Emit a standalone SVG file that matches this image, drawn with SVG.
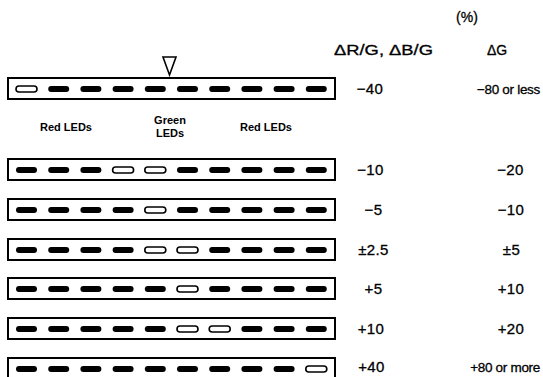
<svg xmlns="http://www.w3.org/2000/svg" width="543" height="377" viewBox="0 0 543 377">
<defs>
<style>
.box{fill:#fff;stroke:#000;stroke-width:2}
.on{fill:#000}
.off{fill:#fff;stroke:#000;stroke-width:1.6}
.t{font-family:"Liberation Sans",Arial,sans-serif;font-size:15px;fill:#000;stroke:#000;stroke-width:0.3;letter-spacing:0.4px}
.w{font-family:"Liberation Sans",Arial,sans-serif;font-size:13.5px;fill:#000;stroke:#000;stroke-width:0.3;letter-spacing:-0.3px;text-anchor:end}
.h{font-family:"Liberation Sans",Arial,sans-serif;font-size:14px;fill:#000;stroke:#000;stroke-width:0.3}
.l{font-family:"Liberation Sans",Arial,sans-serif;font-size:11px;font-weight:bold;fill:#000}
.c{text-anchor:middle}
</style>
<rect id="led" x="0" y="-3" width="21" height="6" rx="3"/>
</defs>
<rect width="543" height="377" fill="#fff"/>
<g id="header">
<text class="h c" x="467" y="22">(%)</text>
<text class="h c" x="383.5" y="55" textLength="99" lengthAdjust="spacingAndGlyphs">ΔR/G, ΔB/G</text>
<text class="h c" x="497" y="55">ΔG</text>
</g>
<g id="marker">
<polygon points="163,57 176,57 169.5,75" fill="#fff" stroke="#000" stroke-width="1.6"/>
</g>
<g id="labels">
<text class="l c" x="66" y="131">Red LEDs</text>
<text class="l c" x="170" y="124">Green</text>
<text class="l c" x="170" y="137">LEDs</text>
<text class="l c" x="266" y="131">Red LEDs</text>
</g>
<g id="row1" transform="translate(0,78)">
<rect class="box" x="8" y="0" width="327" height="21"/>
<g transform="translate(0,11)">
<rect class="off" x="16" y="-3" width="21" height="6" rx="3"/>
<use href="#led" class="on" x="48.2"/><use href="#led" class="on" x="80.4"/><use href="#led" class="on" x="112.6"/><use href="#led" class="on" x="144.8"/><use href="#led" class="on" x="177"/><use href="#led" class="on" x="209.2"/><use href="#led" class="on" x="241.4"/><use href="#led" class="on" x="273.6"/><use href="#led" class="on" x="305.8"/>
</g>
<text class="t c" x="370" y="16">−40</text>
<text class="w" x="540" y="16">−80 or less</text>
</g>
<g id="row2" transform="translate(0,159)">
<rect class="box" x="8" y="0" width="327" height="21"/>
<g transform="translate(0,11)">
<use href="#led" class="on" x="16"/><use href="#led" class="on" x="48.2"/><use href="#led" class="on" x="80.4"/>
<rect class="off" x="112.6" y="-3" width="21" height="6" rx="3"/><rect class="off" x="144.8" y="-3" width="21" height="6" rx="3"/>
<use href="#led" class="on" x="177"/><use href="#led" class="on" x="209.2"/><use href="#led" class="on" x="241.4"/><use href="#led" class="on" x="273.6"/><use href="#led" class="on" x="305.8"/>
</g>
<text class="t c" x="370.5" y="16">−10</text>
<text class="t c" x="510.5" y="16">−20</text>
</g>
<g id="row3" transform="translate(0,199)">
<rect class="box" x="8" y="0" width="327" height="21"/>
<g transform="translate(0,11)">
<use href="#led" class="on" x="16"/><use href="#led" class="on" x="48.2"/><use href="#led" class="on" x="80.4"/><use href="#led" class="on" x="112.6"/>
<rect class="off" x="144.8" y="-3" width="21" height="6" rx="3"/>
<use href="#led" class="on" x="177"/><use href="#led" class="on" x="209.2"/><use href="#led" class="on" x="241.4"/><use href="#led" class="on" x="273.6"/><use href="#led" class="on" x="305.8"/>
</g>
<text class="t c" x="373.5" y="16">−5</text>
<text class="t c" x="511" y="16">−10</text>
</g>
<g id="row4" transform="translate(0,239)">
<rect class="box" x="8" y="0" width="327" height="21"/>
<g transform="translate(0,11)">
<use href="#led" class="on" x="16"/><use href="#led" class="on" x="48.2"/><use href="#led" class="on" x="80.4"/><use href="#led" class="on" x="112.6"/>
<rect class="off" x="144.8" y="-3" width="21" height="6" rx="3"/><rect class="off" x="177" y="-3" width="21" height="6" rx="3"/>
<use href="#led" class="on" x="209.2"/><use href="#led" class="on" x="241.4"/><use href="#led" class="on" x="273.6"/><use href="#led" class="on" x="305.8"/>
</g>
<text class="t c" x="373.5" y="16">±2.5</text>
<text class="t c" x="511.5" y="16">±5</text>
</g>
<g id="row5" transform="translate(0,278)">
<rect class="box" x="8" y="0" width="327" height="21"/>
<g transform="translate(0,11)">
<use href="#led" class="on" x="16"/><use href="#led" class="on" x="48.2"/><use href="#led" class="on" x="80.4"/><use href="#led" class="on" x="112.6"/><use href="#led" class="on" x="144.8"/>
<rect class="off" x="177" y="-3" width="21" height="6" rx="3"/>
<use href="#led" class="on" x="209.2"/><use href="#led" class="on" x="241.4"/><use href="#led" class="on" x="273.6"/><use href="#led" class="on" x="305.8"/>
</g>
<text class="t c" x="373.5" y="16">+5</text>
<text class="t c" x="511" y="16">+10</text>
</g>
<g id="row6" transform="translate(0,318)">
<rect class="box" x="8" y="0" width="327" height="21"/>
<g transform="translate(0,11)">
<use href="#led" class="on" x="16"/><use href="#led" class="on" x="48.2"/><use href="#led" class="on" x="80.4"/><use href="#led" class="on" x="112.6"/><use href="#led" class="on" x="144.8"/>
<rect class="off" x="177" y="-3" width="21" height="6" rx="3"/><rect class="off" x="209.2" y="-3" width="21" height="6" rx="3"/>
<use href="#led" class="on" x="241.4"/><use href="#led" class="on" x="273.6"/><use href="#led" class="on" x="305.8"/>
</g>
<text class="t c" x="371" y="16">+10</text>
<text class="t c" x="511" y="16">+20</text>
</g>
<g id="row7" transform="translate(0,358)">
<rect class="box" x="8" y="0" width="327" height="21"/>
<g transform="translate(0,11)">
<use href="#led" class="on" x="16"/><use href="#led" class="on" x="48.2"/><use href="#led" class="on" x="80.4"/><use href="#led" class="on" x="112.6"/><use href="#led" class="on" x="144.8"/><use href="#led" class="on" x="177"/><use href="#led" class="on" x="209.2"/><use href="#led" class="on" x="241.4"/><use href="#led" class="on" x="273.6"/>
<rect class="off" x="305.8" y="-3" width="21" height="6" rx="3"/>
</g>
<text class="t c" x="371.5" y="14">+40</text>
<text class="w" x="540" y="14">+80 or more</text>
</g>
</svg>
